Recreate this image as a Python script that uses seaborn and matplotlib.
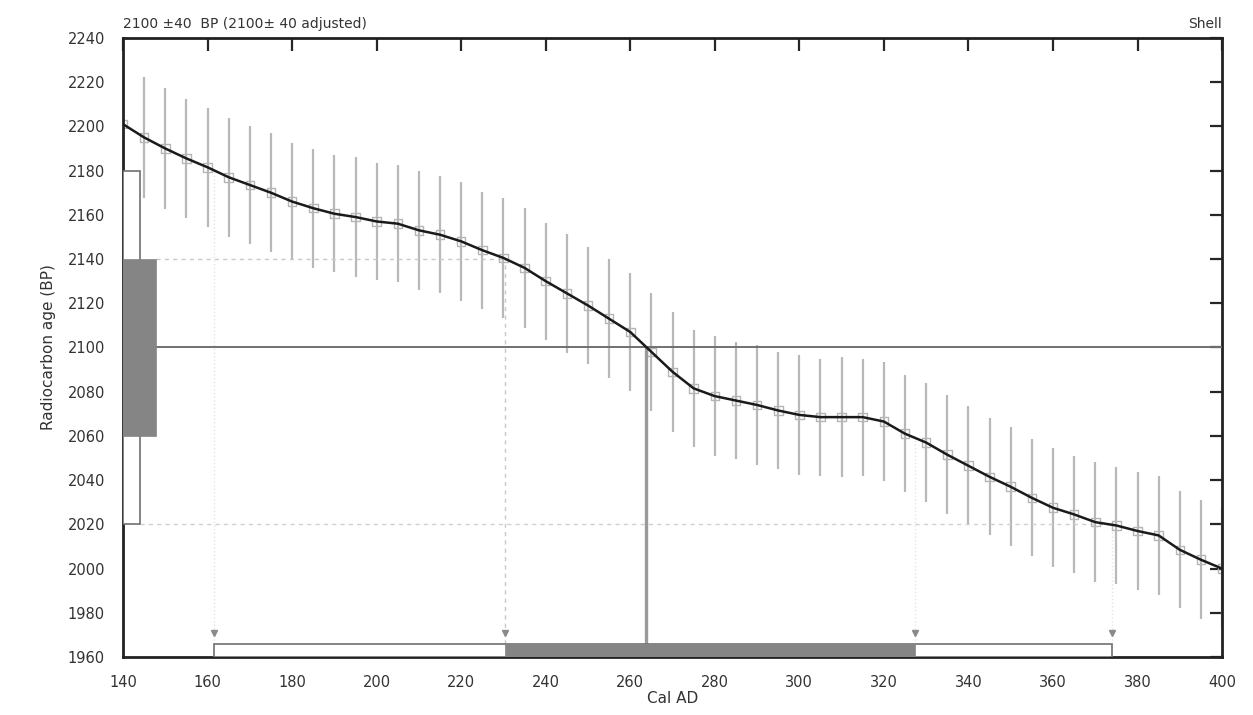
import numpy as np
import pandas as pd
import matplotlib
matplotlib.use('Agg')
import matplotlib.pyplot as plt
from matplotlib.patches import Rectangle
import seaborn as sns

# calibration curve (5 yr steps)
years = [140, 145, 150, 155, 160, 165, 170, 175, 180, 185, 190, 195, 200,
         205, 210, 215, 220, 225, 230, 235, 240, 245, 250, 255, 260, 265,
         270, 275, 280, 285, 290, 295, 300, 305, 310, 315, 320, 325, 330,
         335, 340, 345, 350, 355, 360, 365, 370, 375, 380, 385, 390, 395, 400]
bp_age = [2201, 2195, 2190, 2185.5, 2181.5, 2177, 2173.5, 2170, 2166, 2163,
          2160.5, 2159, 2157, 2156, 2153, 2151, 2148, 2144, 2140.5, 2136,
          2130, 2124.5, 2119, 2113, 2107, 2098, 2089, 2081.5, 2078, 2076,
          2074, 2071.5, 2069.5, 2068.5, 2068.5, 2068.5, 2066.5, 2061, 2057,
          2051.5, 2046.5, 2041.5, 2037, 2032, 2027.5, 2024.5, 2021, 2019.5,
          2017, 2015, 2008.5, 2004, 2000]
# error bar half lengths (from 145 onwards)
bar_err = [27.5, 27.5, 27, 27, 27, 26.5, 27, 26.5, 27, 26.5, 27, 26.5, 26.5,
           27, 26.5, 27, 26.5, 27, 27, 26.5, 27, 26.5, 27, 26.5, 26.5, 27,
           26.5, 27, 26.5, 27, 26.5, 27, 26.5, 27, 26.5, 27, 26.5, 27, 26.8,
           27, 26.5, 27, 26.5, 27, 26.5, 27, 26.5, 26.5, 27, 26.5, 27, 27.5]

# measurement
c14_mean = 2100
sig1 = (2060, 2140)
sig2 = (2020, 2180)
# calibrated ranges (cal AD)
range_2s = (161.6, 373.9)
range_1s = (230.4, 327.4)
intercept = 263.7

df = pd.DataFrame({'year': years, 'bp': bp_age})

sns.set_style('white')
plt.rcParams['font.family'] = ['DejaVu Sans']

fig = plt.figure(figsize=(12.53, 7.15), dpi=100)
ax = fig.add_axes([0.0982, 0.0811, 0.8771, 0.8658])

# error bars
ax.vlines(df['year'][1:], df['bp'][1:] - np.array(bar_err),
          df['bp'][1:] + np.array(bar_err), color='#b8b8b8', lw=1.6, zorder=1)

# small data boxes
sns.scatterplot(data=df, x='year', y='bp', marker='s', s=38,
                facecolors='none', edgecolor='#b5b5b5', linewidth=1.0,
                ax=ax, zorder=2)

# guide lines
ax.hlines(c14_mean, 147.8, 400, color='#707070', lw=1.4, zorder=3)
ax.hlines(sig1[1], 147.8, range_1s[0], color='#c8c8c8', lw=1, ls=(0, (3, 3)), zorder=1)
ax.hlines(sig2[0], 144, range_2s[1], color='#d0d0d0', lw=1, ls=(0, (3, 3)), zorder=1)
ax.vlines(range_1s[0], 1966, sig1[1], color='#c8c8c8', lw=1, ls=(0, (3, 3)), zorder=1)
ax.vlines([range_2s[0], range_1s[1], range_2s[1]], 1966,
          [sig2[1], sig1[0], sig2[0]], color='#e4e4e4', lw=1, ls=':', zorder=1)

# calibration curve
sns.lineplot(data=df, x='year', y='bp', color='#1a1a1a', lw=1.8, ax=ax, zorder=5)

# measurement profile on the left
ax.add_patch(Rectangle((140, sig2[0]), 4.1, sig2[1] - sig2[0],
                       facecolor='white', edgecolor='#707070', lw=1.2, zorder=4))
ax.add_patch(Rectangle((140, sig1[0]), 7.8, sig1[1] - sig1[0],
                       facecolor='#858585', edgecolor='#858585', lw=0.5, zorder=4))

# intercept line
ax.vlines(intercept, 1966, c14_mean, color='#9a9a9a', lw=2.4, zorder=4)

# calibrated range bars
ax.add_patch(Rectangle((range_2s[0], 1960), range_2s[1] - range_2s[0], 6,
                       facecolor='white', edgecolor='#707070', lw=1.2, zorder=4))
ax.add_patch(Rectangle((range_1s[0], 1960), range_1s[1] - range_1s[0], 6,
                       facecolor='#858585', edgecolor='#858585', lw=0.5, zorder=4))
ax.plot([range_2s[0], range_1s[0], range_1s[1], range_2s[1]], [1971] * 4,
        ls='none', marker='v', ms=5, color='#8a8a8a', zorder=5)

ax.set_xlim(140, 400)
ax.set_ylim(1960, 2240)
ax.set_xticks(range(140, 401, 20))
ax.set_yticks(range(1960, 2241, 20))
ax.tick_params(direction='out', length=9, width=1.6, labelsize=10.5,
               labelcolor='#333333', pad=4)
ax.set_xlabel('Cal AD', fontsize=11, color='#333333', labelpad=1)
ax.set_ylabel('Radiocarbon age (BP)', fontsize=11, color='#333333', labelpad=8)
for sp in ax.spines.values():
    sp.set_linewidth(2)
    sp.set_color('#222222')

# inward ticks on top and right
top = ax.secondary_xaxis('top')
top.set_xticks(range(140, 401, 20))
top.tick_params(direction='in', length=9, width=1.6, labeltop=False)
right = ax.secondary_yaxis('right')
right.set_yticks(range(1960, 2241, 20))
right.tick_params(direction='in', length=9, width=1.6, labelright=False)

ax.text(0, 1.012, '2100 \u00b140  BP (2100\u00b1 40 adjusted)', transform=ax.transAxes,
        ha='left', va='bottom', fontsize=10, color='#333333')
ax.text(1, 1.012, 'Shell', transform=ax.transAxes,
        ha='right', va='bottom', fontsize=10, color='#333333')

fig.savefig('out.png', dpi=100)
